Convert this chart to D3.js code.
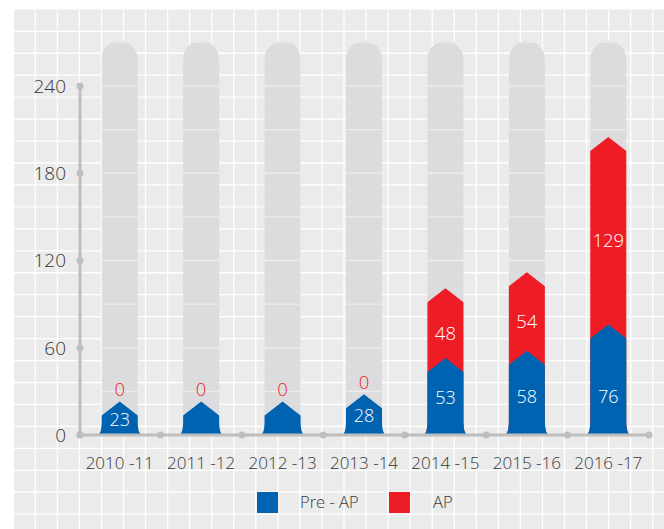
<!DOCTYPE html>
<html><head><meta charset="utf-8">
<script src="https://cdn.jsdelivr.net/npm/d3@7"></script>
<style>html,body{margin:0;padding:0;background:#fff;}svg{display:block;}</style>
</head><body>
<svg id="chart" width="664" height="529"></svg>
<script>
const categories = ["2010 -11","2011 -12","2012 -13","2013 -14","2014 -15","2015 -16","2016 -17"];
const preAP = [23, 23, 23, 28, 53, 58, 76];
const preAPLabelShown = [true, false, false, true, true, true, true];
const ap = [0, 0, 0, 0, 48, 54, 129];
const yTicks = [0, 60, 120, 180, 240];
const trackMax = 271;
const legendLabels = ["Pre - AP", "AP"];

const W = 664, H = 529;
const svg = d3.select("#chart");
const blue = "#0063b1", red = "#ee1c25";
const font = "'Open Sans', 'Noto Sans', sans-serif";
const fw = 300;
const textColor = "#383838";

// background + grid
svg.append("rect").attr("x",14).attr("y",9.5).attr("width",W-14).attr("height",H-9.5).attr("fill","#ebebeb");
const g0 = svg.append("g").attr("stroke","#fff").attr("stroke-width",1.3);
for (let x = 13.3 + 22; x < W; x += 22.05) g0.append("line").attr("x1",x).attr("x2",x).attr("y1",9.5).attr("y2",H);
for (let y = 9.3 + 22; y < H; y += 21.95) g0.append("line").attr("x1",14).attr("x2",W).attr("y1",y).attr("y2",y);

const x = d3.scaleBand().domain(categories).range([79, 649]).paddingInner(0).paddingOuter(0);
const y = d3.scaleLinear().domain([0, 240]).range([435, 86]);
const bw = 36;
const base = y(0);

function cx(c){ return x(c) + x.bandwidth()/2; }

// tracks
categories.forEach(c => {
  const x0 = cx(c) - bw/2, x1 = cx(c) + bw/2, r = bw/2, yt = y(trackMax);
  svg.append("path")
    .attr("d", `M${x0},${base} L${x0},${yt+r} A${r},${r} 0 0 1 ${x1},${yt+r} L${x1},${base} Z`)
    .attr("fill", "#dcdcde");
  const lg = svg.append("g").attr("stroke","#ececee").attr("stroke-width",1.3);
  d3.range(30, trackMax, 30).forEach(v => {
    lg.append("line").attr("x1",x0).attr("x2",x1).attr("y1",y(v)).attr("y2",y(v));
  });
});

function barPath(c, v){
  const x0 = cx(c) - bw/2, x1 = cx(c) + bw/2, xc = cx(c);
  const yp = y(v), ys = yp + 14, f = 5, fr = 14;
  return `M${x0-f},${base} Q${x0},${base} ${x0},${base-fr} L${x0},${ys} L${xc},${yp} L${x1},${ys} L${x1},${base-fr} Q${x1},${base} ${x1+f},${base} Z`;
}

// red (total) then blue
categories.forEach((c,i) => {
  if (ap[i] > 0) svg.append("path").attr("d", barPath(c, preAP[i] + ap[i])).attr("fill", red);
  svg.append("path").attr("d", barPath(c, preAP[i])).attr("fill", blue);
});

// value labels
categories.forEach((c,i) => {
  const yb = y(preAP[i]);
  if (preAPLabelShown[i]) {
    const ly = Math.max((base + yb)/2 + 1, 397);
    svg.append("text").attr("x", cx(c)).attr("y", ly).attr("dy","0.36em")
      .attr("text-anchor","middle").attr("fill","#fff").attr("font-family",font).attr("font-weight",fw).attr("font-size",18)
      .text(preAP[i]);
  }
  if (ap[i] > 0) {
    const yt = y(preAP[i] + ap[i]);
    svg.append("text").attr("x", cx(c)).attr("y", (yb + yt)/2 + 10).attr("dy","0.36em")
      .attr("text-anchor","middle").attr("fill","#fff").attr("font-family",font).attr("font-weight",fw).attr("font-size",18.5)
      .text(ap[i]);
  } else {
    svg.append("text").attr("x", cx(c)).attr("y", yb - 12).attr("dy","0.36em")
      .attr("text-anchor","middle").attr("fill",red).attr("font-family",font).attr("font-weight",fw).attr("font-size",18.5)
      .text(ap[i]);
  }
});

// axes
const axisColor = "#bebebe";
svg.append("line").attr("x1",80).attr("x2",80).attr("y1",base).attr("y2",y(240)).attr("stroke",axisColor).attr("stroke-width",3);
svg.append("line").attr("x1",80).attr("x2",x.range()[1]).attr("y1",base).attr("y2",base).attr("stroke",axisColor).attr("stroke-width",3);
yTicks.forEach(t => {
  svg.append("circle").attr("cx",80).attr("cy",y(t)).attr("r",3.5).attr("fill",axisColor);
  svg.append("text").attr("x",66).attr("y",y(t)).attr("dy","0.36em").attr("text-anchor","end")
    .attr("fill",textColor).attr("font-family",font).attr("font-weight",fw).attr("font-size",19).text(t);
});
const bounds = categories.map(c => x(c)).concat([x.range()[1]]);
bounds.forEach((b,i) => {
  svg.append("circle").attr("cx", i === 0 ? 80 : b).attr("cy",base).attr("r",3.5).attr("fill",axisColor);
});
categories.forEach(c => {
  svg.append("text").attr("x",cx(c)).attr("y",463).attr("dy","0.36em").attr("text-anchor","middle")
    .attr("fill",textColor).attr("font-family",font).attr("font-weight",fw).attr("font-size",17).text(c);
});

// legend
const legend = [{label: legendLabels[0], color: blue, x: 257, tx: 300}, {label: legendLabels[1], color: red, x: 389, tx: 433}];
legend.forEach(l => {
  svg.append("rect").attr("x",l.x).attr("y",492).attr("width",21).attr("height",21).attr("fill",l.color);
  svg.append("text").attr("x",l.tx).attr("y",502).attr("dy","0.36em").attr("fill",textColor)
    .attr("font-family",font).attr("font-weight",fw).attr("font-size",16.5).text(l.label);
});
</script>
</body></html>
